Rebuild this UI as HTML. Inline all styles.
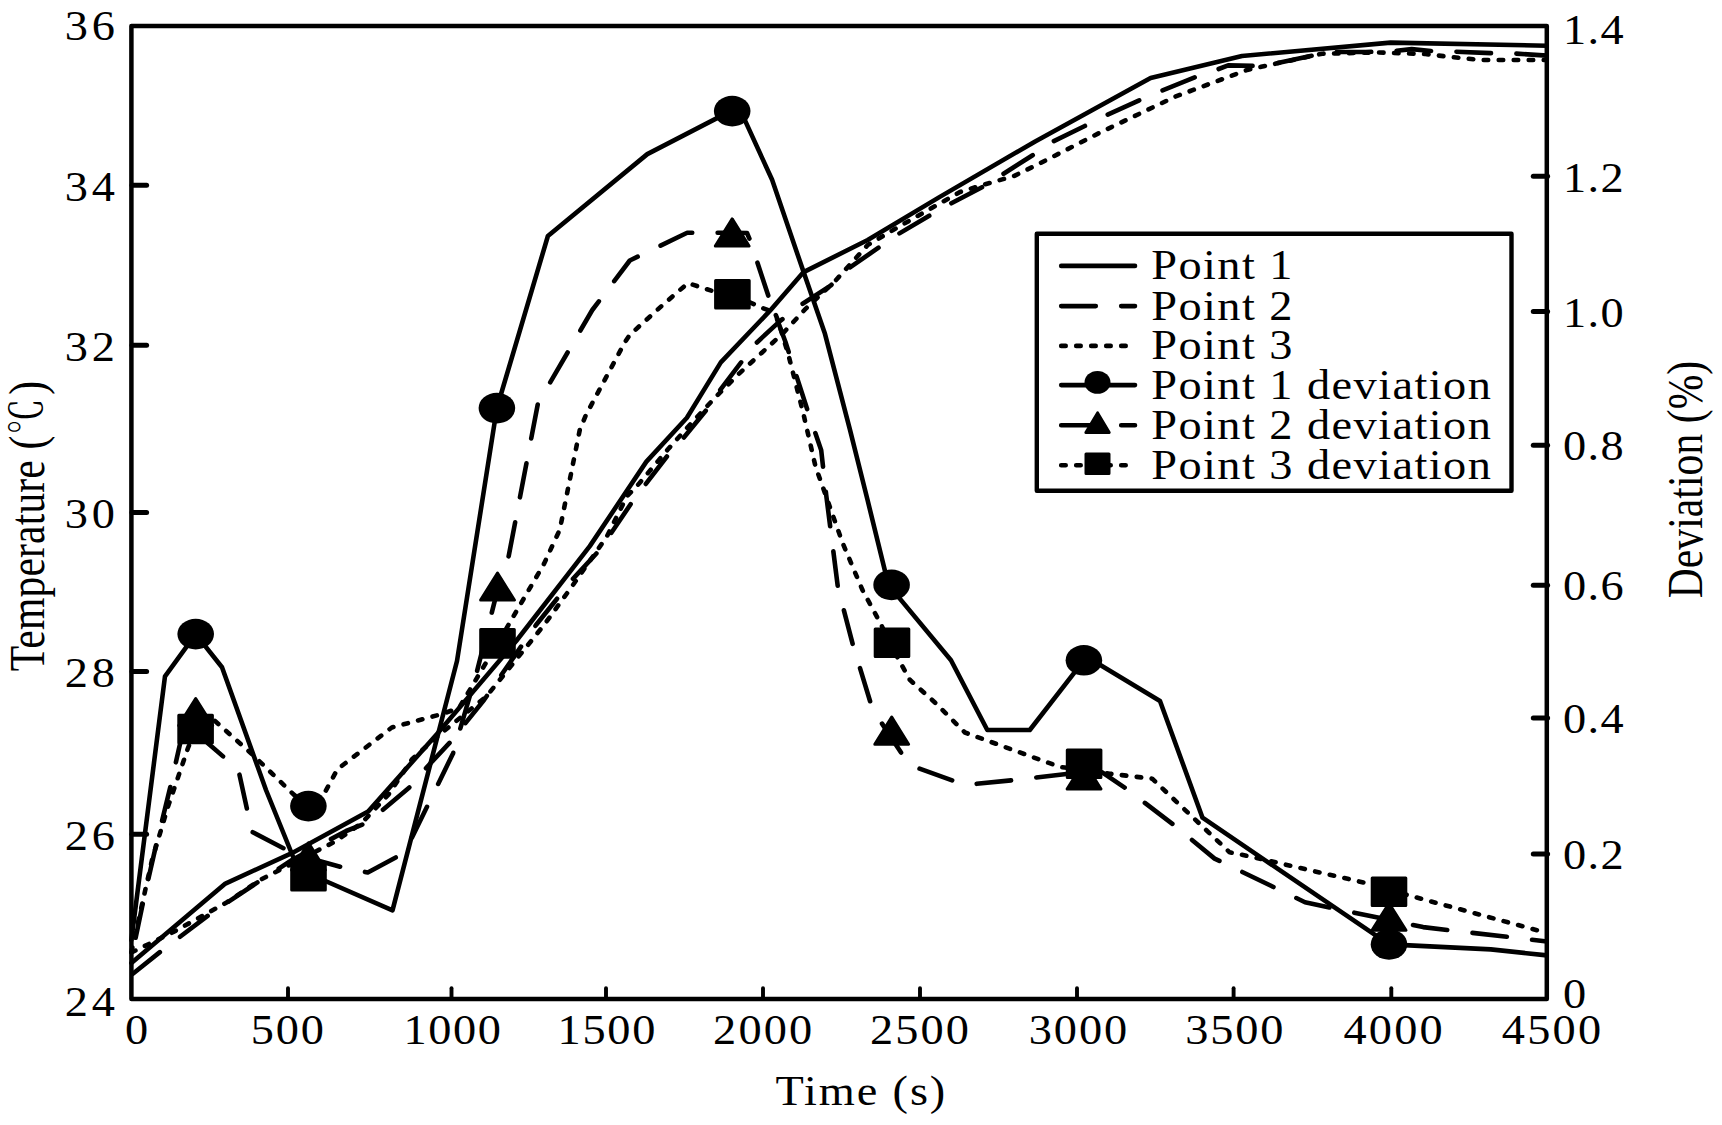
<!DOCTYPE html>
<html><head><meta charset="utf-8"><title>Temperature and deviation</title>
<style>
html,body{margin:0;padding:0;background:#fff}
svg{display:block}
text{font-family:"Liberation Serif","Noto Serif CJK SC",serif;fill:#000}
.c{fill:none;stroke:#000;stroke-width:4.6;stroke-linejoin:round;stroke-linecap:round}
.da{stroke-dasharray:34.6 25.4}
.dt{stroke-dasharray:4.5 10.5}
.m{fill:#000;stroke:#000;stroke-width:3;stroke-linejoin:round}
</style></head><body>
<svg width="1722" height="1125" viewBox="0 0 1722 1125">
<rect width="1722" height="1125" fill="#fff"/>
<clipPath id="cp"><rect x="127.4" y="25.9" width="1420.9" height="973.0"/></clipPath>
<g clip-path="url(#cp)">
<polyline class="c" points="131.4,963.0 225.4,883.6 291.8,853.2 368.1,811.6 437.0,734.0 516.2,641.0 589.8,546.1 646.4,461.6 686.9,417.7 720.8,362.4 769.8,310.9 803.6,272.1 867.7,240.0 939.4,197.1 1035.2,141.4 1150.6,78.1 1242.0,56.0 1390.6,42.6 1546.9,45.7"/>
<polyline class="c da" stroke-dashoffset="58.1" points="131.4,975.0 161.4,950.9 210.7,913.5 258.8,881.5 292.0,860.0 346.1,831.0 363.0,824.3 382.4,810.3 410.3,786.6 427.5,766.5 450.0,742.4 484.0,700.0 536.0,625.0 558.0,597.5 572.9,579.0 601.6,547.8 610.9,533.4 631.2,503.4 645.5,484.4 667.5,455.7 683.5,438.0 706.3,410.1 717.4,393.7 741.1,362.4 756.3,343.0 779.9,321.1 801.9,304.2 830.6,285.6 849.2,267.9 878.7,247.6 898.4,234.0 929.8,215.4 949.8,204.1 982.9,186.7 1003.0,174.1 1032.6,155.3 1052.6,141.7 1084.8,126.0 1106.5,115.2 1139.2,100.3 1161.0,90.9 1195.0,77.3 1217.6,69.4 1228.1,65.4 1252.5,65.9 1271.6,64.2 1304.7,57.2 1330.9,52.0 1365.7,52.0 1394.4,51.0 1411.7,49.1 1431.4,51.0 1454.8,51.7 1491.8,53.2 1514.4,53.5 1546.9,55.6"/>
<polyline class="c dt" points="131.4,952.5 173.4,932.0 226.6,902.5 260.0,880.0 334.3,842.0 361.3,823.4 388.4,794.7 412.0,759.2 444.0,731.0 486.6,696.2 543.9,625.2 571.2,587.5 606.7,536.8 626.9,496.3 637.0,486.0 667.5,449.8 692.0,422.4 715.7,397.0 739.4,373.4 761.3,353.2 783.3,332.9 805.2,309.2 835.6,280.5 867.7,245.0 900.0,226.0 960.0,192.0 982.9,184.9 1014.3,175.9 1040.4,163.1 1100.0,132.6 1175.8,96.4 1247.2,69.9 1261.2,66.8 1322.2,53.7 1378.5,52.5 1425.3,54.0 1451.0,57.0 1481.2,60.0 1546.9,60.0"/>
<polyline class="c" points="131.4,940.0 165.0,676.3 195.7,634.1 222.0,667.3 266.0,790.0 298.0,869.0 392.5,910.4 457.0,661.0 496.9,408.0 547.9,236.0 647.3,154.1 738.8,106.9 772.1,179.8 803.6,272.1 824.7,332.9 850.0,429.8 867.5,499.8 888.4,584.9 951.0,660.3 987.3,730.0 1029.8,730.0 1086.6,656.8 1160.0,701.0 1202.5,817.7 1389.0,944.4 1490.8,949.4 1546.9,955.4"/>
<polyline class="c da" stroke-dashoffset="39.3" points="131.4,958.0 142.7,904.0 156.0,845.4 170.7,785.4 180.0,744.0 190.0,726.0"/>
<polyline class="c da" stroke-dashoffset="49.7" points="190.0,726.0 208.8,744.0 238.4,769.7 248.5,816.0 250.5,831.0 285.0,849.0 308.5,858.0"/>
<polyline class="c da" stroke-dashoffset="1.8" points="308.5,858.0 341.0,867.0 367.8,872.5 396.4,857.1 412.0,837.4 427.0,806.8 453.0,753.5 476.7,672.5 497.5,590.0"/>
<polyline class="c da" stroke-dashoffset="24.5" points="497.5,590.0 508.7,556.0 537.9,403.6 549.9,382.9 592.3,310.0 629.8,260.5 687.2,232.8 732.0,232.8"/>
<polyline class="c da" stroke-dashoffset="13.5" points="732.0,232.8 747.0,233.0 750.0,240.0 768.4,296.0 785.4,341.7 807.4,409.9 821.2,450.3 826.2,495.0 837.9,587.4 852.9,644.8 870.4,702.2 881.1,722.2 901.6,753.4 912.0,766.0 952.4,780.4 965.0,785.0 1011.0,780.4 1084.0,772.0"/>
<polyline class="c da" stroke-dashoffset="49.3" points="1084.0,772.0 1102.2,772.4 1125.2,787.9 1172.6,824.1 1214.6,858.6 1274.5,887.5 1305.0,902.2 1330.7,907.7 1379.0,917.8 1423.1,927.1 1447.8,930.1 1506.9,936.8 1546.9,941.5"/>
<polyline class="c dt" points="131.4,952.0 152.0,860.0 168.0,806.7 188.0,748.0 195.7,729.0 213.0,719.2 253.8,755.8 293.5,794.4 308.2,806.0 323.8,794.4 337.4,769.3 391.8,727.5 442.0,714.0 459.0,708.0 470.8,688.3 508.3,625.2 543.9,564.0 559.8,529.7 579.8,429.8 586.0,414.8 624.8,342.4 629.7,335.0 661.7,305.9 687.9,283.1 714.0,291.5 732.4,294.2 761.3,307.6 774.8,312.6 778.2,321.1 788.4,354.8 803.0,412.0 815.5,466.5 827.0,498.8 842.4,542.4 862.4,589.9 879.9,622.3 897.4,657.3 909.8,679.8 934.9,702.5 964.9,732.5 1059.8,766.9 1084.0,770.0 1109.7,773.7 1152.2,778.7 1229.6,852.3 1252.3,857.0 1370.5,884.1 1407.0,894.9 1546.9,932.9"/>
</g>
<ellipse cx="195.7" cy="634.1" rx="18.30" ry="15.30" fill="#000"/>
<ellipse cx="308.4" cy="806.1" rx="18.30" ry="15.30" fill="#000"/>
<ellipse cx="496.9" cy="408.1" rx="18.30" ry="15.30" fill="#000"/>
<ellipse cx="732.2" cy="111.1" rx="18.30" ry="15.30" fill="#000"/>
<ellipse cx="891.6" cy="584.9" rx="18.30" ry="15.30" fill="#000"/>
<ellipse cx="1083.9" cy="660.3" rx="18.30" ry="15.30" fill="#000"/>
<ellipse cx="1389.0" cy="944.4" rx="18.30" ry="15.30" fill="#000"/>
<polygon class="m" points="195.7,698.5 212.7,725.6 178.7,725.6"/>
<polygon class="m" points="308.5,842.9 325.4,870.0 291.6,870.0"/>
<polygon class="m" points="497.5,573.0 514.4,600.1 480.6,600.1"/>
<polygon class="m" points="732.2,218.9 749.1,246.1 715.3,246.1"/>
<polygon class="m" points="891.7,717.1 908.6,744.2 874.8,744.2"/>
<polygon class="m" points="1084.1,761.9 1101.0,789.0 1067.1,789.0"/>
<polygon class="m" points="1389.0,903.2 1406.0,930.3 1372.0,930.3"/>
<rect class="m" x="178.8" y="715.2" width="33.6" height="27.6"/>
<rect class="m" x="291.7" y="862.4" width="33.6" height="27.6"/>
<rect class="m" x="480.7" y="629.6" width="33.6" height="27.6"/>
<rect class="m" x="715.6" y="280.4" width="33.6" height="27.6"/>
<rect class="m" x="875.2" y="628.9" width="33.6" height="27.6"/>
<rect class="m" x="1067.3" y="749.9" width="33.6" height="27.6"/>
<rect class="m" x="1372.2" y="877.9" width="33.6" height="27.6"/>
<rect x="131.4" y="25.9" width="1415.4" height="973.0" fill="none" stroke="#000" stroke-width="4.5" stroke-linejoin="round"/>
<line x1="288" y1="998.9" x2="288" y2="988.3" stroke="#000" stroke-width="3.9" stroke-linecap="round"/>
<line x1="451.5" y1="998.9" x2="451.5" y2="988.3" stroke="#000" stroke-width="3.9" stroke-linecap="round"/>
<line x1="606" y1="998.9" x2="606" y2="988.3" stroke="#000" stroke-width="3.9" stroke-linecap="round"/>
<line x1="763" y1="998.9" x2="763" y2="988.3" stroke="#000" stroke-width="3.9" stroke-linecap="round"/>
<line x1="920" y1="998.9" x2="920" y2="988.3" stroke="#000" stroke-width="3.9" stroke-linecap="round"/>
<line x1="1077" y1="998.9" x2="1077" y2="988.3" stroke="#000" stroke-width="3.9" stroke-linecap="round"/>
<line x1="1233.6" y1="998.9" x2="1233.6" y2="988.3" stroke="#000" stroke-width="3.9" stroke-linecap="round"/>
<line x1="1391.3" y1="998.9" x2="1391.3" y2="988.3" stroke="#000" stroke-width="3.9" stroke-linecap="round"/>
<line x1="132.0" y1="185.3" x2="146.6" y2="185.3" stroke="#000" stroke-width="5" stroke-linecap="round"/>
<line x1="132.0" y1="345.2" x2="146.6" y2="345.2" stroke="#000" stroke-width="5" stroke-linecap="round"/>
<line x1="132.0" y1="512.5" x2="146.6" y2="512.5" stroke="#000" stroke-width="5" stroke-linecap="round"/>
<line x1="132.0" y1="671.6" x2="146.6" y2="671.6" stroke="#000" stroke-width="5" stroke-linecap="round"/>
<line x1="132.0" y1="834.3" x2="146.6" y2="834.3" stroke="#000" stroke-width="5" stroke-linecap="round"/>
<line x1="1547.6" y1="176.2" x2="1533.3" y2="176.2" stroke="#000" stroke-width="5" stroke-linecap="round"/>
<line x1="1547.6" y1="311.5" x2="1533.3" y2="311.5" stroke="#000" stroke-width="5" stroke-linecap="round"/>
<line x1="1547.6" y1="445.2" x2="1533.3" y2="445.2" stroke="#000" stroke-width="5" stroke-linecap="round"/>
<line x1="1547.6" y1="585.2" x2="1533.3" y2="585.2" stroke="#000" stroke-width="5" stroke-linecap="round"/>
<line x1="1547.6" y1="717.9" x2="1533.3" y2="717.9" stroke="#000" stroke-width="5" stroke-linecap="round"/>
<line x1="1547.6" y1="854" x2="1533.3" y2="854" stroke="#000" stroke-width="5" stroke-linecap="round"/>
<text transform="translate(118.60,40.4) scale(1.104,1)" font-size="42" text-anchor="end" letter-spacing="3.4">36</text>
<text transform="translate(118.60,200.8) scale(1.104,1)" font-size="42" text-anchor="end" letter-spacing="3.4">34</text>
<text transform="translate(118.60,360.9) scale(1.104,1)" font-size="42" text-anchor="end" letter-spacing="3.4">32</text>
<text transform="translate(118.60,528.2) scale(1.104,1)" font-size="42" text-anchor="end" letter-spacing="3.4">30</text>
<text transform="translate(118.60,686.6) scale(1.104,1)" font-size="42" text-anchor="end" letter-spacing="3.4">28</text>
<text transform="translate(118.60,849.8) scale(1.104,1)" font-size="42" text-anchor="end" letter-spacing="3.4">26</text>
<text transform="translate(118.60,1015.8) scale(1.104,1)" font-size="42" text-anchor="end" letter-spacing="3.4">24</text>
<text transform="translate(1563.10,43.7) scale(1.104,1)" font-size="42" text-anchor="start" letter-spacing="1.2">1.4</text>
<text transform="translate(1563.10,191.9) scale(1.104,1)" font-size="42" text-anchor="start" letter-spacing="1.2">1.2</text>
<text transform="translate(1563.10,326.6) scale(1.104,1)" font-size="42" text-anchor="start" letter-spacing="1.2">1.0</text>
<text transform="translate(1563.10,460.3) scale(1.104,1)" font-size="42" text-anchor="start" letter-spacing="1.2">0.8</text>
<text transform="translate(1563.10,600.2) scale(1.104,1)" font-size="42" text-anchor="start" letter-spacing="1.2">0.6</text>
<text transform="translate(1563.10,732.8) scale(1.104,1)" font-size="42" text-anchor="start" letter-spacing="1.2">0.4</text>
<text transform="translate(1563.10,868.7) scale(1.104,1)" font-size="42" text-anchor="start" letter-spacing="1.2">0.2</text>
<text transform="translate(1563.10,1008.3) scale(1.104,1)" font-size="42" text-anchor="start" letter-spacing="1.2">0</text>
<text transform="translate(136.70,1043.9) scale(1.104,1)" font-size="42" text-anchor="middle">0</text>
<text transform="translate(288.35,1043.9) scale(1.104,1)" font-size="42" text-anchor="middle" letter-spacing="1.66">500</text>
<text transform="translate(453.00,1043.9) scale(1.104,1)" font-size="42" text-anchor="middle" letter-spacing="1.4">1000</text>
<text transform="translate(607.35,1043.9) scale(1.104,1)" font-size="42" text-anchor="middle" letter-spacing="1.55">1500</text>
<text transform="translate(763.65,1043.9) scale(1.104,1)" font-size="42" text-anchor="middle" letter-spacing="1.9">2000</text>
<text transform="translate(920.60,1043.9) scale(1.104,1)" font-size="42" text-anchor="middle" letter-spacing="1.9">2500</text>
<text transform="translate(1078.90,1043.9) scale(1.104,1)" font-size="42" text-anchor="middle" letter-spacing="1.7">3000</text>
<text transform="translate(1235.30,1043.9) scale(1.104,1)" font-size="42" text-anchor="middle" letter-spacing="1.7">3500</text>
<text transform="translate(1394.20,1043.9) scale(1.104,1)" font-size="42" text-anchor="middle" letter-spacing="1.95">4000</text>
<text transform="translate(1552.60,1043.9) scale(1.104,1)" font-size="42" text-anchor="middle" letter-spacing="2.0">4500</text>
<text transform="translate(861.30,1104.8) scale(1.104,1)" font-size="42" text-anchor="middle" letter-spacing="1.7">Time (s)</text>
<text transform="translate(44.0,526.0) rotate(-90) scale(1,1.22)" font-size="41.5" text-anchor="middle" letter-spacing="0.2">Temperature (<tspan font-size="36" dx="1" dy="-1.5">℃</tspan><tspan dx="3.5" dy="1.5">)</tspan></text>
<text transform="translate(1702.0,479.5) rotate(-90) scale(1,1.22)" font-size="41.5" text-anchor="middle" letter-spacing="0.1">Deviation (%)</text>
<rect x="1036.8" y="233.8" width="474.70000000000005" height="256.9" fill="#fff" stroke="#000" stroke-width="4.4" stroke-linejoin="round"/>
<line class="c" x1="1061.2" y1="265.9" x2="1135" y2="265.9"/>
<line class="c da" x1="1061.2" y1="306.1" x2="1135" y2="306.1"/>
<line class="c dt" x1="1061.2" y1="345.9" x2="1125.8" y2="345.9"/>
<line class="c" x1="1061.2" y1="385.1" x2="1135" y2="385.1"/>
<line class="c da" x1="1061.2" y1="425.2" x2="1135" y2="425.2"/>
<line class="c dt" x1="1061.2" y1="465.3" x2="1125.8" y2="465.3"/>
<ellipse cx="1097.5" cy="382.4" rx="13.00" ry="11.40" fill="#000"/>
<polygon class="m" points="1097.6,412.9 1109.2,432.5 1085.9,432.5"/>
<rect class="m" x="1086.0" y="453.9" width="23.0" height="19.5"/>
<text transform="translate(1151.20,279.3) scale(1.104,1)" font-size="42" text-anchor="start" letter-spacing="1.3">Point 1</text>
<text transform="translate(1151.20,319.5) scale(1.104,1)" font-size="42" text-anchor="start" letter-spacing="1.3">Point 2</text>
<text transform="translate(1151.20,359.3) scale(1.104,1)" font-size="42" text-anchor="start" letter-spacing="1.3">Point 3</text>
<text transform="translate(1151.20,398.5) scale(1.104,1)" font-size="42" text-anchor="start" letter-spacing="1.3">Point 1 deviation</text>
<text transform="translate(1151.20,438.6) scale(1.104,1)" font-size="42" text-anchor="start" letter-spacing="1.3">Point 2 deviation</text>
<text transform="translate(1151.20,478.7) scale(1.104,1)" font-size="42" text-anchor="start" letter-spacing="1.3">Point 3 deviation</text>
</svg></body></html>
